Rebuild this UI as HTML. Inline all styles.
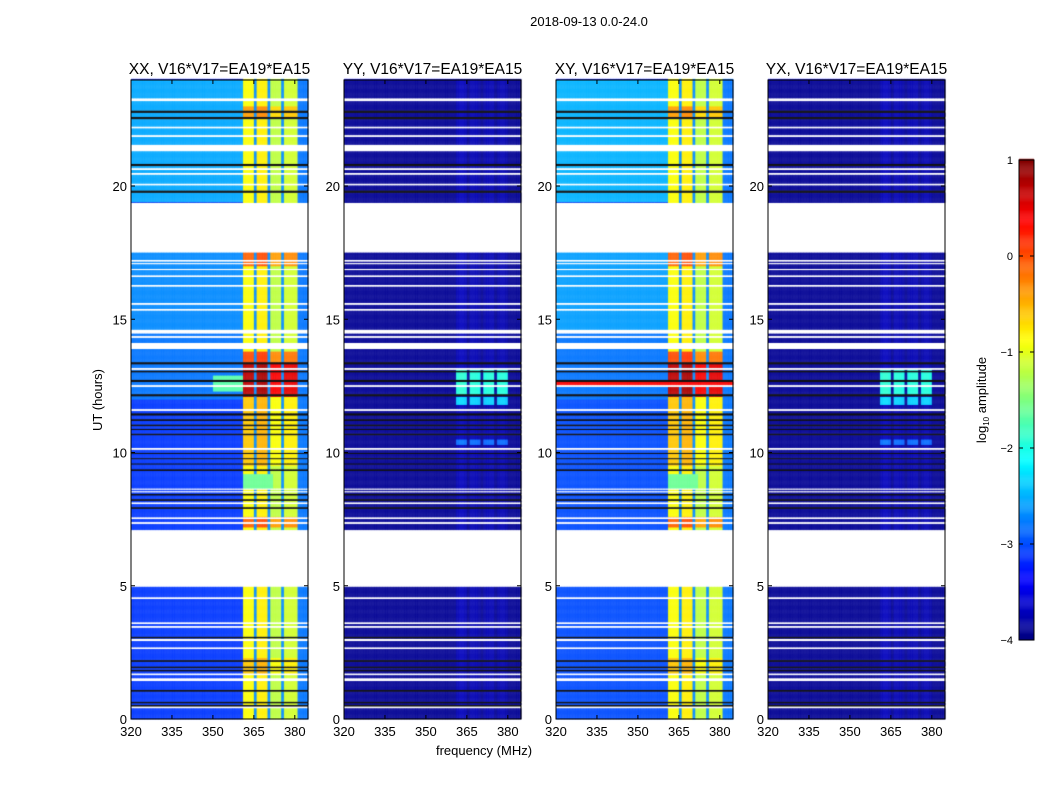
<!DOCTYPE html>
<html><head><meta charset="utf-8"><style>
body{margin:0;background:#fff;width:1050px;height:800px;overflow:hidden;font-family:"Liberation Sans",sans-serif}
#wrap{position:relative;width:1050px;height:800px}
canvas,svg{position:absolute;left:0;top:0}
</style></head><body><div id="wrap">
<canvas id="cv" width="1050" height="800"></canvas>
<svg id="sv" width="1050" height="800"></svg>
</div>
<script>
// ---- data arrays ----
const panelTitles = ["XX, V16*V17=EA19*EA15","YY, V16*V17=EA19*EA15","XY, V16*V17=EA19*EA15","YX, V16*V17=EA19*EA15"];
const xTicks = [320,335,350,365,380];
const yTicks = [0,5,10,15,20];
const cbTicks = [1,0,-1,-2,-3,-4];
// flagged (white) time intervals, hours
const whiteFlags = [[4.95,7.1],[17.5,19.37],[23.18,23.3],[22.15,22.23],[21.83,21.91],[21.3,21.55],[20.6,20.68],[20.41,20.49],[20.02,20.1],[17.16,17.23],[17.06,17.12],[16.83,16.9],[16.58,16.66],[16.21,16.29],[15.53,15.61],[15.31,15.39],[14.45,14.62],[14.29,14.37],[13.88,14.12],[13.09,13.17],[12.46,12.54],[11.56,11.64],[10.09,10.17],[8.6,8.66],[8.5,8.56],[8.06,8.14],[7.5,7.58],[7.31,7.39],[4.5,4.58],[3.57,3.65],[3.42,3.5],[2.92,3.02],[2.62,2.7],[1.65,1.73],[1.43,1.54],[0.41,0.49]];
// flagged (black) time intervals
const blackFlags = [[22.76,22.84],[22.51,22.59],[20.76,20.84],[19.76,19.84],[13.31,13.39],[13.02,13.08],[12.66,12.74],[12.11,12.19],[11.4,11.48],[11.2,11.26],[11.0,11.06],[10.85,10.9],[10.65,10.72],[9.95,10.0],[9.75,9.8],[9.55,9.6],[9.32,9.38],[8.4,8.46],[8.2,8.25],[7.9,7.96],[3.04,3.1],[2.17,2.23],[1.92,1.98],[1.8,1.86],[1.05,1.11],[0.61,0.67],[0.49,0.55]];
// background level (log10 amp) per time segment, per panel
const bgSegXX = [[0,5,-3.1],[7.1,12,-3.1],[12,14.6,-2.8],[14.6,17.5,-2.7],[19.4,24,-2.55]];
const bgSegXY = [[0,5,-3.0],[7.1,12,-3.0],[12,14.6,-2.8],[14.6,17.5,-2.6],[19.4,24,-2.5]];
const bgSegYY = [[0,24,-3.9]];
// band profile: channels 361..384 (1 MHz)
const bandXX = [-0.9,-0.9,-0.9,-0.9,-2.7,-0.8,-0.8,-0.8,-0.8,-2.7,-1.2,-1.2,-1.2,-1.2,-2.7,-1.1,-1.1,-1.1,-1.1,-1.1,-2.8,-2.8,-2.8,-2.8];
const bandYY = [-3.75,-3.7,-3.7,-3.75,-3.9,-3.75,-3.75,-3.75,-3.8,-3.9,-3.8,-3.75,-3.75,-3.75,-3.9,-3.8,-3.75,-3.75,-3.8,-3.9,-3.9,-3.9,-3.9,-3.9];
// band boosts per time segment
const boostSegX = [[12.1,13.4,1.6],[13.4,13.8,0.9],[17.0,17.5,0.8],[7.2,7.6,0.8],[1.7,2.3,0.3],[22.6,23.0,0.5],[9.5,12.1,0.3]];
const boostSegY = [[12.2,13.1,1.8],[11.8,12.1,1.4],[10.3,10.5,0.9]];
// extra features
const xxStrip = [12.3,12.9,350,361,-1.7];
const xyRedLine = [12.52,12.72,320,385,0.4];
const xxBlob = [8.6,9.2,361,372,-1.6];
// ---- geometry ----
const panelsX = [131,344,556,768];
const pw = 177, axTop = 80, axBot = 719;
const fx = (f,p)=>panelsX[p]+(f-320)*2.73;
const ty = t=>axBot-t*26.65;
function jet(v){
  let x=(v+4)/5; x=Math.max(0,Math.min(1,x));
  const c=t=>Math.max(0,Math.min(1,1.5-Math.abs(4*x-t)));
  return `rgb(${Math.round(255*c(3))},${Math.round(255*c(2))},${Math.round(255*c(1))})`;
}
const inSeg=(segs,t)=>{for(const s of segs)if(t>=s[0]&&t<s[1])return s;return null;};
function value(p,t,f){
  const isX=(p===0||p===2);
  let bg = inSeg(isX?(p===0?bgSegXX:bgSegXY):bgSegYY,t); let v = bg?bg[2]:-3.5;
  if(f>=361){const b=(isX?bandXX:bandYY)[Math.min(23,Math.floor(f-361))];
    const gap = isX ? b<-2.6 : b<-3.85;
    v=b; if(!gap){const bs=inSeg(isX?boostSegX:boostSegY,t); if(bs)v+=bs[2];}
    if(isX && v>0.9)v=0.9;}
  if(p===0 && t>=xxStrip[0]&&t<xxStrip[1]&&f>=xxStrip[2]&&f<xxStrip[3])v=xxStrip[4];
  if(isX && t>=xxBlob[0]&&t<xxBlob[1]&&f>=xxBlob[2]&&f<xxBlob[3])v=xxBlob[4];
  if(p===2 && t>=xyRedLine[0]&&t<xyRedLine[1])v=xyRedLine[4];
  return v;
}
const cv=document.getElementById('cv').getContext('2d');
const dt=0.02, df=1;
for(let p=0;p<4;p++){
  for(let t=0;t<24;t+=dt){
    const tm=t+dt/2;
    const y0=ty(t+dt), y1=ty(t);
    if(inSeg(whiteFlags,tm))continue;
    if(inSeg(blackFlags,tm)){cv.fillStyle='#000';cv.fillRect(panelsX[p],y0,pw,y1-y0+0.3);continue;}
    for(let f=320;f<385;f+=df){
      cv.fillStyle=jet(value(p,tm,f+0.5));
      const xa=fx(f,p), xb=Math.min(fx(f+df,p),panelsX[p]+pw);
      cv.fillRect(xa,y0,xb-xa+0.3,y1-y0+0.3);
    }
  }
}
for(let v=-4;v<1;v+=0.01){cv.fillStyle=jet(v+0.005);const y=640-(v+4)*96;cv.fillRect(1019,y-1.2,15,1.3);}
// ---- svg overlay ----
const sv=document.getElementById('sv');const NS='http://www.w3.org/2000/svg';
function mk(tag,attrs,txt){const e=document.createElementNS(NS,tag);for(const k in attrs)e.setAttribute(k,attrs[k]);if(txt!==undefined)e.textContent=txt;sv.appendChild(e);return e;}
let e=mk('text',{x:589,y:26,'text-anchor':'middle','font-size':13},'2018-09-13 0.0-24.0');


for(let p=0;p<4;p++){
  const x0=panelsX[p];
  e=mk('rect',{x:x0,y:axTop,width:pw,height:axBot-axTop,fill:'none',stroke:'#000','stroke-width':1});
  
  
  e=mk('text',{x:x0+pw/2,y:74,'text-anchor':'middle','font-size':15.5},panelTitles[p]);
  
  
  for(const xt of xTicks){const x=fx(xt,p);
    mk('line',{x1:x,x2:x,y1:axBot,y2:axBot-4,stroke:'#000'});mk('line',{x1:x,x2:x,y1:axTop,y2:axTop+4,stroke:'#000'});
    e=mk('text',{x:x,y:axBot+17,'text-anchor':'middle','font-size':13},String(xt));
    
    }
  for(const yt of yTicks){const y=ty(yt);
    mk('line',{x1:x0,x2:x0+4,y1:y,y2:y,stroke:'#000'});mk('line',{x1:x0+pw,x2:x0+pw-4,y1:y,y2:y,stroke:'#000'});
    e=mk('text',{x:x0-4,y:y+5,'text-anchor':'end','font-size':13},String(yt));
    
    }
}
e=mk('text',{x:484,y:755,'text-anchor':'middle','font-size':13},'frequency (MHz)');


e=mk('text',{x:102,y:400,'text-anchor':'middle','font-size':13,transform:'rotate(-90 102 400)'},'UT (hours)');


e=mk('rect',{x:1019,y:160,width:15,height:480,fill:'none',stroke:'#000'});


for(const c of cbTicks){const y=640-(c+4)*96;
  mk('line',{x1:1019,x2:1023,y1:y,y2:y,stroke:'#000'});mk('line',{x1:1034,x2:1030,y1:y,y2:y,stroke:'#000'});
  e=mk('text',{x:1013,y:y+4,'text-anchor':'end','font-size':11},c<0?'\u2212'+(-c):String(c));
  
  }
e=mk('text',{x:986,y:400,'text-anchor':'middle','font-size':13,transform:'rotate(-90 986 400)'});
e.innerHTML='log<tspan font-size="8" dy="3">10</tspan><tspan dy="-3"> amplitude</tspan>';


</script></body></html>
